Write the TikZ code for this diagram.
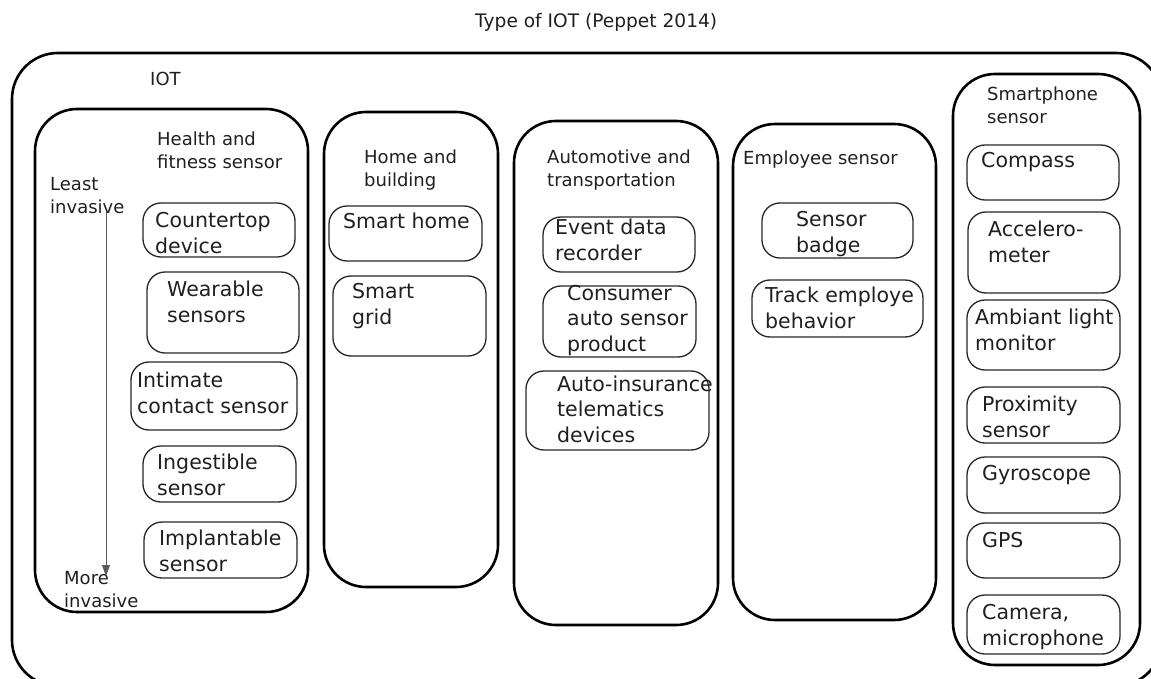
\documentclass[tikz,border=0pt]{standalone}
\usepackage{fontspec}
\setmainfont{DejaVu Sans}
\usetikzlibrary{arrows.meta}
\begin{document}
\begin{tikzpicture}[x=1pt,y=-1pt,
  panel/.style={draw=black, line width=2.6pt, rounded corners=42pt, inner sep=0pt},
  itembox/.style={draw=black!85, line width=1.3pt, rounded corners=18pt, inner sep=0pt},
  itemtxt/.style={anchor=base west, align=left, inner sep=0pt, font=\fontsize{20.5}{25.5}\selectfont, text=black!88},
  labtxt/.style={anchor=base west, align=left, inner sep=0pt, font=\fontsize{18}{23}\selectfont, text=black!88}]
\newcommand\mkbox[6]{\node[#2, minimum width={#5-#3}, minimum height={#6-#4}] (#1) at ({(#3+#5)/2},{(#4+#6)/2}) {};}
\useasboundingbox (0,0) rectangle (1151,679);
\clip (0,0) rectangle (1151,679);
% title
\node[labtxt, font=\fontsize{18.6}{23}\selectfont] (title) at (475,28) {Type of IOT (Peppet 2014)};
% outer frame
\mkbox{iot}{panel, rounded corners=46pt}{12}{53}{1162}{686}
\node[labtxt] (iotlab) at (150,86) {IOT};
% panels
\mkbox{health}{panel}{35}{109}{308}{612}
\mkbox{home}{panel}{324}{112}{498}{587}
\mkbox{auto}{panel}{514}{121}{718}{625}
\mkbox{empl}{panel}{733}{124}{936}{620}
\mkbox{phone}{panel}{953}{74}{1140}{665}
% panel titles (anchored at baseline of last line)
\node[labtxt] (healthlab) at (157,169) {Health and\\fitness sensor};
\node[labtxt] (homelab) at (364,187) {Home and\\building};
\node[labtxt] (autolab) at (547,187) {Automotive and\\transportation};
\node[labtxt] (empllab) at (743,165) {Employee sensor};
\node[labtxt] (phonelab) at (987,124) {Smartphone\\sensor};
% health items
\mkbox{b1}{itembox}{143}{203}{295}{257}
\node[itemtxt] (t1) at (155,253) {Countertop\\device};
\mkbox{b2}{itembox}{147}{272}{299}{353}
\node[itemtxt] (t2) at (167,322) {Wearable\\sensors};
\mkbox{b3}{itembox}{131}{362}{297}{430}
\node[itemtxt] (t3) at (137,413) {Intimate\\contact sensor};
\mkbox{b4}{itembox}{143}{446}{296}{502}
\node[itemtxt] (t4) at (157,495) {Ingestible\\sensor};
\mkbox{b5}{itembox}{144}{522}{297}{578}
\node[itemtxt] (t5) at (159,571) {Implantable\\sensor};
\node[labtxt] (least) at (50,214) {Least\\invasive};
\node[labtxt] (more) at (64,607) {More\\invasive};
\coordinate (a1) at (106,212);
\coordinate (a2) at (106,576);
\draw[-{Triangle[length=11pt,width=8pt]}, draw=black!65, line width=1pt] (a1) -- (a2);
% home items
\mkbox{h1}{itembox}{329}{206}{482}{261}
\node[itemtxt] (ht1) at (343,229) {Smart home};
\mkbox{h2}{itembox}{333}{276}{486}{356}
\node[itemtxt] (ht2) at (352,324) {Smart\\grid};
% automotive items
\mkbox{c1}{itembox}{543}{217}{695}{272}
\node[itemtxt] (ct1) at (555,260) {Event data\\recorder};
\mkbox{c2}{itembox}{543}{286}{696}{357}
\node[itemtxt] (ct2) at (567,351) {Consumer\\auto sensor\\product};
\mkbox{c3}{itembox}{526}{371}{709}{450}
\node[itemtxt] (ct3) at (557,442) {Auto-insurance\\telematics\\devices};
% employee items
\mkbox{e1}{itembox}{762}{203}{913}{258}
\node[itemtxt] (et1) at (796,252) {Sensor\\badge};
\mkbox{e2}{itembox}{752}{280}{923}{337}
\node[itemtxt] (et2) at (765,328) {Track employe\\behavior};
% smartphone items
\mkbox{p1}{itembox}{967}{145}{1119}{200}
\node[itemtxt] (pt1) at (981,168) {Compass};
\mkbox{p2}{itembox}{968}{212}{1120}{293}
\node[itemtxt] (pt2) at (988,262) {Accelero-\\meter};
\mkbox{p3}{itembox}{967}{300}{1120}{370}
\node[itemtxt] (pt3) at (975,350) {Ambiant light\\monitor};
\mkbox{p4}{itembox}{967}{387}{1120}{443}
\node[itemtxt] (pt4) at (982,437) {Proximity\\sensor};
\mkbox{p5}{itembox}{967}{457}{1120}{513}
\node[itemtxt] (pt5) at (982,480) {Gyroscope};
\mkbox{p6}{itembox}{967}{523}{1120}{578}
\node[itemtxt] (pt6) at (982,547) {GPS};
\mkbox{p7}{itembox}{967}{595}{1120}{654}
\node[itemtxt] (pt7) at (982,645) {Camera,\\microphone};
\end{tikzpicture}
\end{document}
